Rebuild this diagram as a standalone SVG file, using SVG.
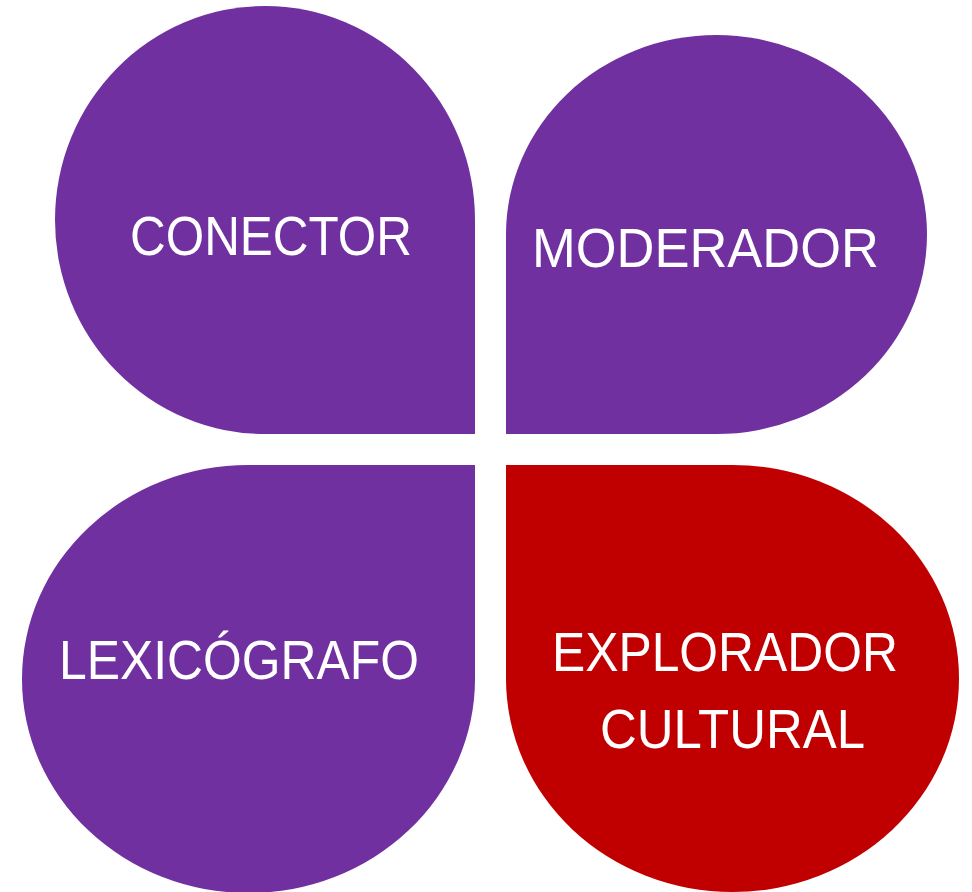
<svg xmlns="http://www.w3.org/2000/svg" width="972" height="892" viewBox="0 0 972 892">
<style>
.p{fill:#7030A0}
.r{fill:#C00000}
.t{fill:#FFFFFF;font-family:"Liberation Sans",Arial,sans-serif;font-size:56px}
</style>
<rect width="972" height="892" fill="#FFFFFF"/>
<g id="conector">
<path class="p" d="M475 434 L265 434 A210 214 0 0 1 55 220 A210 214 0 0 1 265 6 A210 214 0 0 1 475 220 Z"/>
<text class="t" x="130" y="255" textLength="282" lengthAdjust="spacingAndGlyphs">CONECTOR</text>
</g>
<g id="moderador">
<path class="p" d="M506 434 L506 234.5 A210.5 199.5 0 0 1 716.5 35 A210.5 199.5 0 0 1 927 234.5 A210.5 199.5 0 0 1 716.5 434 Z"/>
<text class="t" x="532" y="267" textLength="347" lengthAdjust="spacingAndGlyphs">MODERADOR</text>
</g>
<g id="lexicografo">
<path class="p" d="M475 465 L475 679 A226.5 214 0 0 1 248.5 893 A226.5 214 0 0 1 22 679 A226.5 214 0 0 1 248.5 465 Z"/>
<text class="t" x="59" y="679" textLength="360" lengthAdjust="spacingAndGlyphs">LEXICÓGRAFO</text>
</g>
<g id="explorador">
<path class="r" d="M506 465 L732.5 465 A226.5 213.5 0 0 1 959 678.5 A226.5 213.5 0 0 1 732.5 892 A226.5 213.5 0 0 1 506 678.5 Z"/>
<text class="t" x="552" y="671" textLength="346" lengthAdjust="spacingAndGlyphs">EXPLORADOR</text>
<text class="t" x="600" y="748" textLength="265" lengthAdjust="spacingAndGlyphs">CULTURAL</text>
</g>
<g id="connectors"/>
</svg>
